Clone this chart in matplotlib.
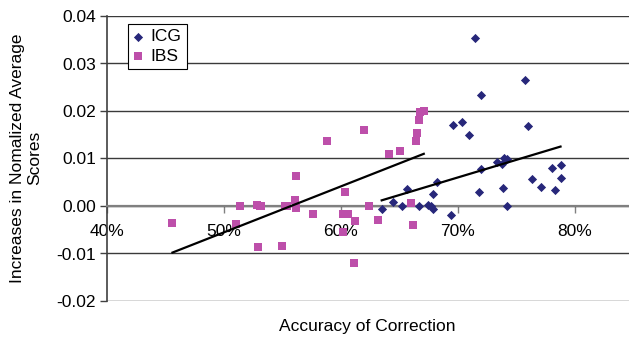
import numpy as np
import matplotlib.pyplot as plt
from matplotlib.ticker import PercentFormatter, FormatStrFormatter

plt.rcParams['font.family'] = ['Liberation Sans', 'DejaVu Sans']
plt.rcParams['font.size'] = 12.5

# ICG series (accuracy of correction, increase in normalized average score)
icg_acc = [0.635, 0.645, 0.652, 0.657, 0.667, 0.675, 0.677, 0.679, 0.679, 0.682,
           0.694, 0.696, 0.704, 0.710, 0.715, 0.718, 0.720, 0.720, 0.734, 0.738,
           0.739, 0.740, 0.742, 0.742, 0.758, 0.760, 0.764, 0.771, 0.781, 0.783,
           0.788, 0.788]
icg_gain = [-0.0006, 0.0008, 0.0001, 0.0036, 0.0001, 0.0002, 0.0000, -0.0006, 0.0026, 0.0051,
            -0.0018, 0.0171, 0.0176, 0.0149, 0.0353, 0.0029, 0.0078, 0.0234, 0.0093, 0.0088,
            0.0038, 0.0100, 0.0099, 0.0001, 0.0266, 0.0168, 0.0057, 0.0041, 0.0080, 0.0033,
            0.0086, 0.0059]

# IBS series
ibs_acc = [0.456, 0.514, 0.510, 0.528, 0.531, 0.532, 0.529, 0.550, 0.552, 0.554,
           0.562, 0.561, 0.562, 0.576, 0.588, 0.602, 0.604, 0.606, 0.602, 0.612,
           0.611, 0.620, 0.624, 0.632, 0.641, 0.651, 0.660, 0.662, 0.664, 0.665,
           0.667, 0.668, 0.671]
ibs_gain = [-0.0035, 0.0000, -0.0037, 0.0003, 0.0000, -0.0001, -0.0086, -0.0085, 0.0000, 0.0000,
            0.0064, 0.0013, -0.0005, -0.0017, 0.0137, -0.0016, 0.0029, -0.0017, -0.0055, -0.0032,
            -0.0121, 0.0159, -0.0001, -0.0029, 0.0109, 0.0115, 0.0007, -0.0040, 0.0137, 0.0154,
            0.0182, 0.0197, 0.0201]

# linear trendlines: (slope, intercept)
icg_fit = (0.074, -0.0458)
ibs_fit = (0.0967, -0.0539)

W, H = 629, 343
fig = plt.figure(figsize=(W / 100, H / 100), dpi=100)
ax = fig.add_axes([107 / W, 1 - 301 / H, 526 / W, 285 / H])

ax.set_xlim(0.4, 0.85)
ax.set_ylim(-0.02, 0.04)

# horizontal gridlines
ax.set_yticks([-0.02, -0.01, 0.0, 0.01, 0.02, 0.03, 0.04])
ax.yaxis.set_major_formatter(FormatStrFormatter('%.2f'))
ax.yaxis.grid(True, color='#3a3a3a', lw=1.0)
ax.set_axisbelow(True)

ax.set_xticks([0.4, 0.5, 0.6, 0.7, 0.8])
ax.xaxis.set_major_formatter(PercentFormatter(1.0, decimals=0))

for s in ['top', 'right']:
    ax.spines[s].set_visible(False)
ax.spines['bottom'].set_position(('data', 0))
ax.spines['bottom'].set_color('#808080')
ax.spines['bottom'].set_linewidth(1.6)
ax.spines['left'].set_color('#404040')
ax.spines['left'].set_linewidth(1.2)
ax.tick_params(axis='y', length=5, width=1, color='#404040', pad=3, labelsize=12.5)
ax.tick_params(axis='x', length=5, width=1, color='#808080', pad=8, labelsize=12.5)

ax.scatter(icg_acc, icg_gain, marker='D', s=22, color='#27277a', label='ICG', zorder=3, linewidths=0)
ax.scatter(ibs_acc, ibs_gain, marker='s', s=26, color='#bd4faa', label='IBS', zorder=3, linewidths=0)

for acc, fit in [(icg_acc, icg_fit), (ibs_acc, ibs_fit)]:
    xs = np.array([min(acc), max(acc)])
    ax.plot(xs, fit[0] * xs + fit[1], color='black', lw=1.6, zorder=4)

leg = ax.legend(loc='upper left', bbox_to_anchor=(128 / W, 1 - 24 / H), bbox_transform=fig.transFigure,
                borderaxespad=0, fancybox=False, edgecolor='black', framealpha=1,
                handlelength=0.6, handletextpad=0.4, borderpad=0.3, labelspacing=0.25,
                fontsize=12.5, scatterpoints=1)
leg.get_frame().set_linewidth(0.8)

fig.text(26 / W, 1 - 158 / H, 'Increases in Nomalized Average\nScores', rotation=90,
         ha='center', va='center', multialignment='center', fontsize=12.5)
fig.text(367 / W, 1 - 327 / H, 'Accuracy of Correction', ha='center', va='center', fontsize=12.5)

fig.savefig('out.png', dpi=100)
